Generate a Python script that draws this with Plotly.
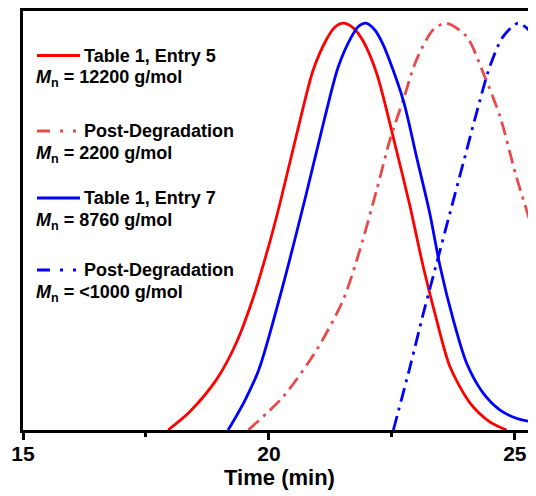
import plotly.graph_objects as go

# ---- data (time in min, normalised intensity) ----
red_solid_t = [17.95, 18.39, 18.94, 19.34, 19.68, 19.99, 20.22, 20.63, 20.90, 21.17, 21.34, 21.51,
               21.72, 21.92, 22.19, 22.59, 22.87, 23.14, 23.41, 23.68, 24.09, 24.49, 24.83]
red_solid_v = [0.0, 0.045, 0.125, 0.215, 0.325, 0.45, 0.555, 0.76, 0.885, 0.96, 0.99, 1.0,
               0.988, 0.955, 0.877, 0.689, 0.549, 0.40, 0.27, 0.156, 0.066, 0.02, 0.0]

red_deg_t = [19.58, 20.29, 20.97, 21.51, 21.85, 22.19, 22.46, 22.73, 23.00, 23.34, 23.61,
             24.02, 24.36, 24.70, 25.03, 25.43]
red_deg_v = [0.0, 0.082, 0.197, 0.32, 0.443, 0.59, 0.713, 0.811, 0.91, 0.984, 1.0,
             0.967, 0.877, 0.77, 0.623, 0.467]

blue_solid_t = [19.17, 19.50, 19.80, 20.26, 20.73, 21.14, 21.41, 21.68, 21.82, 21.97, 22.14,
                22.32, 22.73, 23.00, 23.27, 23.48, 23.75, 24.02, 24.36, 24.70, 25.03, 25.43]
blue_solid_v = [0.0, 0.07, 0.15, 0.344, 0.566, 0.77, 0.893, 0.967, 0.992, 1.0, 0.985,
                0.948, 0.811, 0.672, 0.533, 0.402, 0.27, 0.164, 0.09, 0.049, 0.029, 0.018]

blue_deg_t = [22.53, 22.87, 23.14, 23.41, 23.68, 23.95, 24.22, 24.49, 24.76, 25.07, 25.31, 25.43]
blue_deg_v = [0.0, 0.156, 0.287, 0.41, 0.533, 0.656, 0.779, 0.893, 0.967, 1.0, 0.98, 0.955]

x_ticks = [15, 20, 25]
x_title = "Time (min)"

legend_names = ["Table 1, Entry 5", "Post-Degradation", "Table 1, Entry 7", "Post-Degradation"]
legend_mn = ["12200 g/mol", "2200 g/mol", "8760 g/mol", "<1000 g/mol"]

RED = "#ff0000"
RED_LIGHT = "#e84a4a"
BLUE = "#0000ff"
DASHDOT = "14px,6px,3px,6px"
FONT = "Liberation Sans, Arial, sans-serif"

# page body has an 8px margin, so the figure is drawn 8px in from the window's corner
OFF = 8
W, H = 536 - OFF, 496 - OFF
ML, MR, MT, MB = 23 - OFF, 0, 11 - OFF, 66
PW, PH = W - ML - MR, H - MT - MB

def px(x):  # window pixel -> paper
    return (x - OFF - ML) / PW

def py(y):
    return (H - MB - (y - OFF)) / PH

fig = go.Figure()
series = [
    (red_solid_t, red_solid_v, RED, "solid"),
    (red_deg_t, red_deg_v, RED_LIGHT, DASHDOT),
    (blue_solid_t, blue_solid_v, BLUE, "solid"),
    (blue_deg_t, blue_deg_v, BLUE, DASHDOT),
]
for t, v, c, d in series:
    fig.add_trace(go.Scatter(x=t, y=v, mode="lines",
                             line=dict(color=c, width=2.8, dash=d, shape="spline", smoothing=0.8),
                             showlegend=False, hoverinfo="skip"))

# legend drawn manually
rows = [(55.5, 78), (131, 154), (198, 221), (270, 293)]
samples = [(RED, "solid"), (RED_LIGHT, "13px,10px,3px,10px,3px,30px"),
           (BLUE, "solid"), (BLUE, "13px,10px,3px,10px,3px,30px")]
annotations = []
shapes = []
for (y1, y2), name, mn, (c, d) in zip(rows, legend_names, legend_mn, samples):
    shapes.append(dict(type="line", xref="paper", yref="paper",
                       x0=px(37), x1=px(80), y0=py(y1), y1=py(y1),
                       line=dict(color=c, width=2.8, dash=d), layer="above"))
    annotations.append(dict(xref="paper", yref="paper", x=px(82), y=py(y1),
                            xanchor="left", yanchor="middle", showarrow=False,
                            text="<b>" + name + "</b>",
                            font=dict(family=FONT, size=18, color="black")))
    annotations.append(dict(xref="paper", yref="paper", x=px(34), y=py(y2),
                            xanchor="left", yanchor="middle", showarrow=False,
                            text="<b><i>M</i><sub>n</sub> = " + mn.replace("<", "&lt;") + "</b>",
                            font=dict(family=FONT, size=18, color="black")))

fig.update_layout(
    width=W, height=H,
    margin=dict(l=ML, r=MR, t=MT, b=MB, pad=0, autoexpand=False),
    paper_bgcolor="white", plot_bgcolor="white",
    shapes=shapes, annotations=annotations,
    showlegend=False,
)
fig.update_xaxes(range=[15, 25.43], tickvals=x_ticks, ticks="outside", ticklen=7, tickwidth=2.5,
                 tickcolor="black", showline=True, linewidth=3, linecolor="black", mirror=True,
                 showgrid=False, zeroline=False, automargin=False, ticklabelstandoff=-4,
                 minor=dict(tickvals=[17.5, 22.5], ticks="outside", ticklen=4, tickwidth=2.5,
                            tickcolor="black", showgrid=False),
                 tickfont=dict(family=FONT, size=21, color="black", weight="bold"),
                 title=dict(text="<b>" + x_title + "</b>", standoff=2,
                            font=dict(family=FONT, size=22, color="black")))
fig.update_yaxes(range=[0, 1.03], showticklabels=False, ticks="", showline=True, linewidth=3,
                 linecolor="black", mirror=False, showgrid=False, zeroline=False, automargin=False)

fig.write_html("out.html")
